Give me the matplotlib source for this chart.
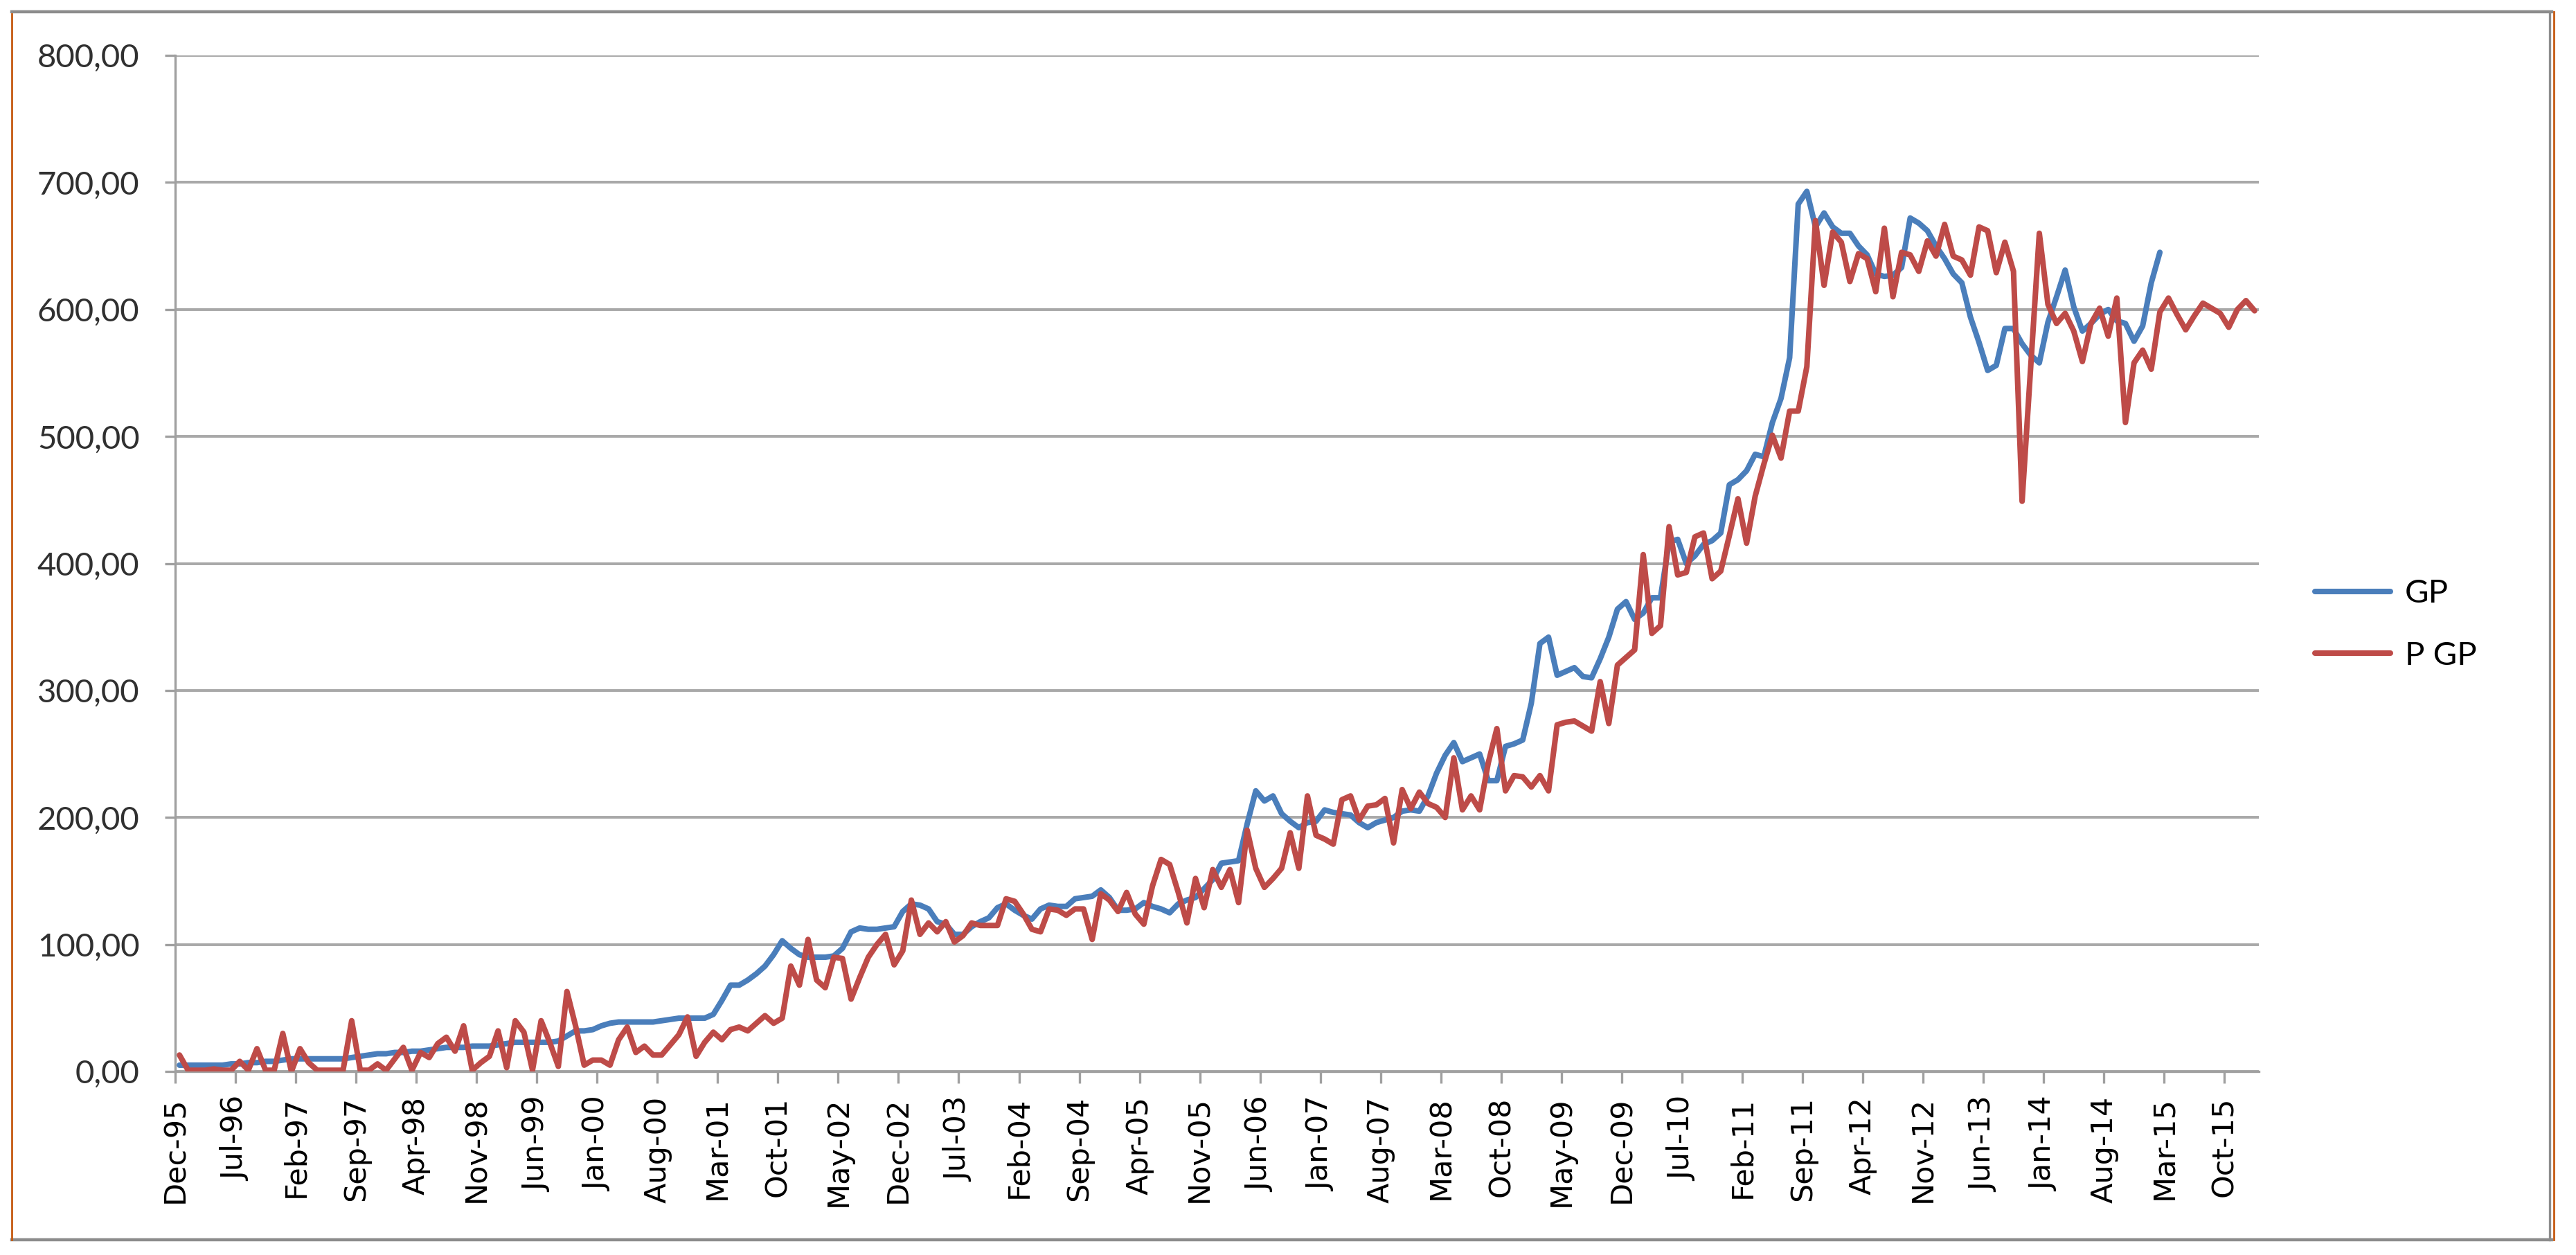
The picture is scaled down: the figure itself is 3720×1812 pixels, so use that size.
import numpy as np
import pandas as pd
import matplotlib
matplotlib.use("Agg")
import matplotlib.pyplot as plt
from matplotlib import rcParams
import matplotlib.patches as mpatches
from matplotlib.lines import Line2D
from matplotlib.ticker import FuncFormatter

rcParams['font.family'] = ['Lato', 'DejaVu Sans']

# monthly series, first month Dec-95
start = '1995-12'
gp = [5, 5, 5, 5, 5, 5, 6, 6, 7, 7,
      8, 8, 9, 10, 10, 10, 10, 10, 10, 10,
      11, 12, 13, 14, 14, 15, 15, 16, 16, 17,
      18, 19, 19, 19, 20, 20, 20, 21, 22, 23,
      23, 23, 23, 23, 24, 28, 32, 32, 33, 36,
      38, 39, 39, 39, 39, 39, 40, 41, 42, 42,
      42, 42, 45, 56, 68, 68, 72, 77, 83, 92,
      103, 97, 92, 90, 90, 90, 91, 97, 110, 113,
      112, 112, 113, 114, 126, 132, 131, 128, 118, 116,
      108, 108, 114, 118, 121, 129, 132, 127, 123, 120,
      128, 131, 130, 130, 136, 137, 138, 143, 137, 127,
      127, 128, 133, 130, 128, 125, 132, 135, 137, 144,
      151, 164, 165, 166, 195, 221, 213, 217, 203, 197,
      192, 196, 197, 206, 204, 203, 202, 196, 192, 196,
      198, 200, 205, 206, 205, 217, 235, 249, 259, 244,
      247, 250, 229, 229, 256, 258, 261, 290, 337, 342,
      312, 315, 318, 311, 310, 325, 342, 364, 370, 356,
      361, 373, 373, 417, 419, 400, 406, 415, 418, 424,
      462, 466, 473, 486, 484, 511, 530, 562, 683, 693,
      665, 676, 665, 660, 660, 650, 643, 628, 626, 627,
      633, 672, 668, 662, 650, 640, 628, 621, 594, 574,
      552, 556, 585, 585, 573, 564, 558, 590, 610, 631,
      602, 583, 589, 596, 600, 591, 589, 575, 587, 621,
      645]

p_gp = [13, 1, 1, 1, 2, 1, 1, 8, 1, 18,
        1, 1, 30, 0, 18, 7, 1, 1, 1, 1,
        40, 1, 1, 6, 1, 10, 19, 1, 15, 11,
        22, 27, 16, 36, 1, 7, 12, 32, 3, 40,
        31, 1, 40, 23, 4, 63, 36, 5, 9, 9,
        5, 25, 35, 15, 20, 13, 13, 21, 29, 43,
        12, 23, 31, 25, 33, 35, 32, 38, 44, 38,
        42, 83, 68, 104, 72, 66, 90, 89, 57, 74,
        90, 100, 108, 84, 95, 135, 108, 117, 110, 118,
        102, 107, 117, 115, 115, 115, 136, 134, 124, 112,
        110, 128, 127, 123, 128, 128, 104, 140, 135, 126,
        141, 124, 116, 146, 167, 163, 141, 117, 152, 129,
        159, 145, 159, 133, 190, 160, 145, 152, 160, 188,
        160, 217, 186, 183, 179, 214, 217, 198, 209, 210,
        215, 180, 222, 207, 220, 211, 208, 200, 247, 206,
        217, 206, 243, 270, 221, 233, 232, 224, 233, 221,
        273, 275, 276, 272, 268, 307, 274, 320, 326, 332,
        407, 345, 351, 429, 391, 393, 421, 424, 388, 394,
        422, 451, 416, 453, 478, 501, 483, 520, 520, 555,
        670, 619, 661, 653, 622, 644, 640, 614, 664, 610,
        645, 643, 630, 654, 642, 667, 642, 639, 627, 665,
        662, 629, 653, 630, 449, 555, 660, 604, 589, 597,
        583, 559, 589, 601, 579, 609, 511, 558, 568, 553,
        598, 609, 596, 584, 595, 605, 601, 597, 586, 600,
        607, 599]

n_months = 243          # Dec-95 .. Feb-16 on the category axis
tick_step = 7
tick_months = np.arange(0, n_months, tick_step)
tick_labels = pd.date_range(start, periods=len(tick_months), freq='7MS').strftime('%b-%y')
yticks = np.arange(0, 801, 100)

c_gp = '#4a7ebb'
c_pgp = '#be4b48'

fig = plt.figure(figsize=(18.6, 9.06), dpi=200)
ax = fig.add_axes([0.0680, 0.1462, 0.8089, 0.8096])

# points sit mid-month
ax.plot(np.arange(len(gp)) + 0.5, gp, color=c_gp, lw=2.9,
        solid_joinstyle='round', solid_capstyle='round', label='GP', zorder=3)
ax.plot(np.arange(len(p_gp)) + 0.5, p_gp, color=c_pgp, lw=2.9,
        solid_joinstyle='round', solid_capstyle='round', label='P GP', zorder=4)

ax.set_xlim(0, n_months - 1)
ax.set_ylim(0, 800)
ax.set_yticks(yticks)
ax.yaxis.set_major_formatter(FuncFormatter(lambda v, p: f'{v:.2f}'.replace('.', ',')))
ax.set_xticks(tick_months)
ax.set_xticklabels(tick_labels, rotation=90, family='DejaVu Sans', fontsize=15.5)
for lab in ax.get_yticklabels():
    lab.set_fontsize(17)
    lab.set_color('#303030')

ax.grid(axis='y', color='#a8a8a8', lw=1.4)
ax.set_axisbelow(True)
for s in ['top', 'right']:
    ax.spines[s].set_visible(False)
for s in ['left', 'bottom']:
    ax.spines[s].set_color('#a0a0a0')
    ax.spines[s].set_linewidth(1.2)
ax.tick_params(axis='y', length=5.5, width=1.2, color='#a0a0a0', pad=13)
ax.tick_params(axis='x', length=6, width=1.2, color='#a0a0a0', pad=7)

fig.legend(loc='center left', bbox_to_anchor=(3343 / 3720, 1 - 902 / 1812),
           frameon=False, fontsize=17, handlelength=2.3, handletextpad=0.45,
           labelspacing=1.0, borderpad=0, borderaxespad=0)

# chart-area frame
fig.add_artist(Line2D([0.0046, 0.9906], [0.9906, 0.9906], transform=fig.transFigure,
                      color='#8c8c8c', lw=1.6))
fig.add_artist(Line2D([0.0046, 0.9906], [0.0121, 0.0121], transform=fig.transFigure,
                      color='#8c8c8c', lw=1.6))
fig.add_artist(Line2D([0.9898, 0.9898], [0.0121, 0.9906], transform=fig.transFigure,
                      color='#8c8c8c', lw=1.2))
fig.add_artist(Line2D([0.0046, 0.0046], [0.0121, 0.9890], transform=fig.transFigure,
                      color='#c55a11', lw=1.0))
fig.add_artist(Line2D([0.9914, 0.9914], [0.0121, 0.9906], transform=fig.transFigure,
                      color='#c55a11', lw=1.0))

fig.savefig('out.png', dpi=200)
